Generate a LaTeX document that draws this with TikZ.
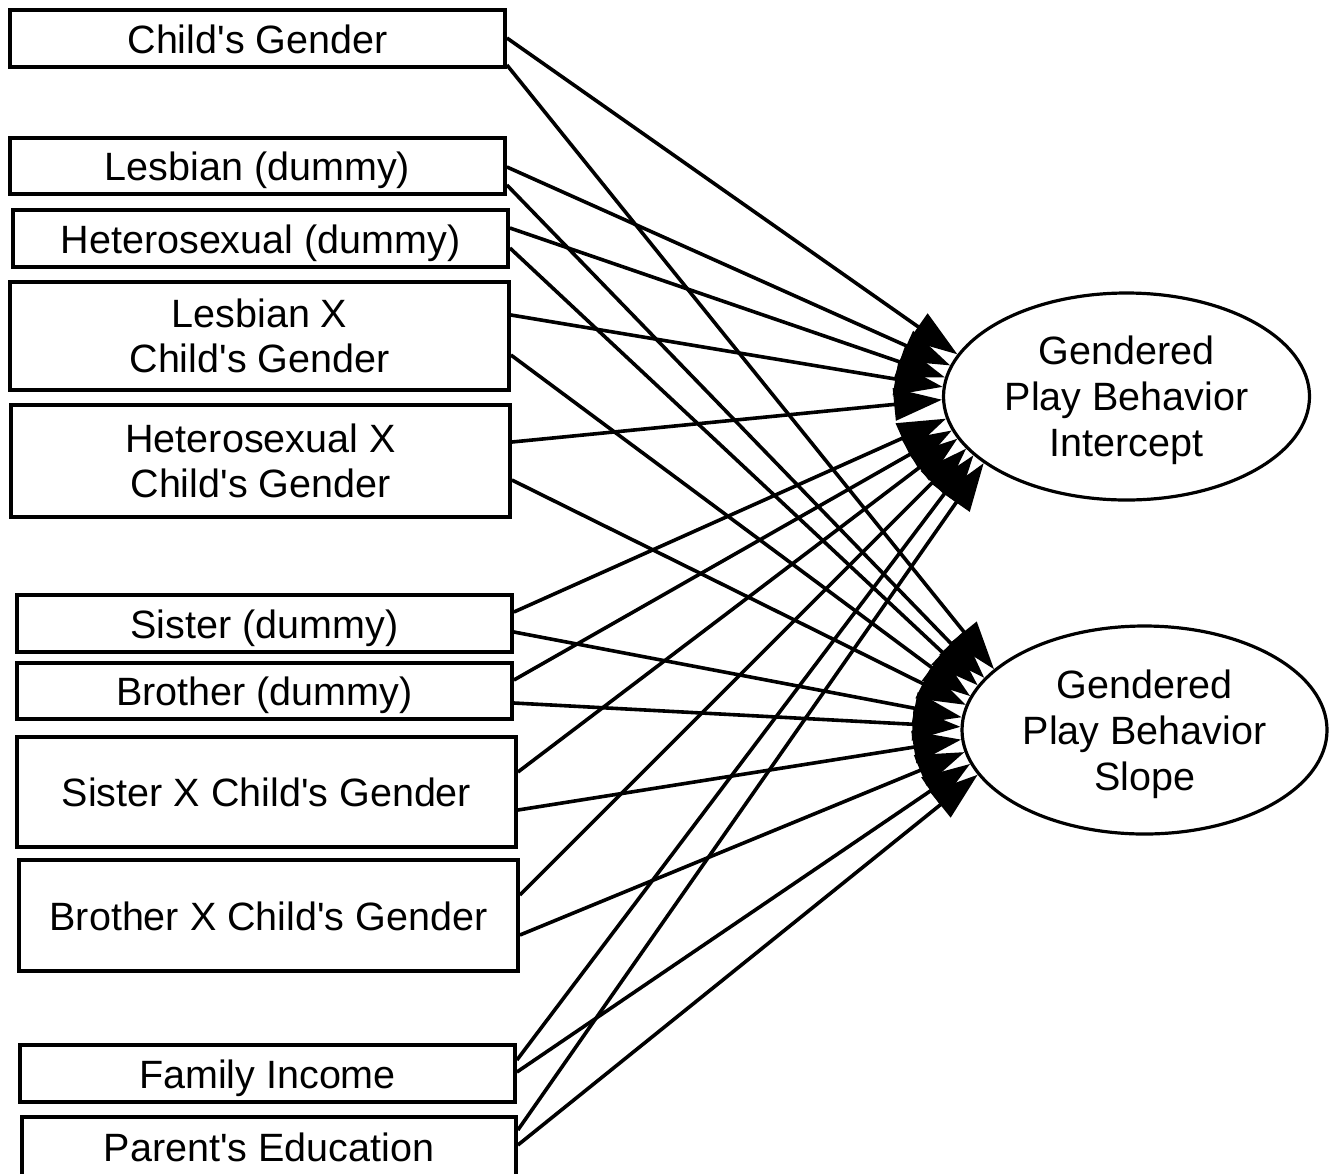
\documentclass[tikz,border=0pt]{standalone}
\usepackage{fontspec}
\setmainfont{Liberation Sans}
\usetikzlibrary{arrows.meta,shapes.geometric,calc}
\newcommand{\ap}{\textquotesingle}
\begin{document}
\begin{tikzpicture}[x=0.5pt,y=-0.5pt,
  box/.style={draw,line width=1.9pt,rectangle,inner sep=0pt,align=center,
    font=\fontsize{19.75}{22.5}\selectfont},
  single/.style={text height=14.5pt,text depth=0pt},
  lat/.style={draw,line width=1.6pt,ellipse,inner sep=0pt},
  lattext/.style={align=center,inner sep=0pt,font=\fontsize{19.75}{23}\selectfont},
  conn/.style={line width=1.8pt,-{Triangle[length=24pt,width=16pt]}}
]
\useasboundingbox (0,0) rectangle (1336,1173);
\fill[white] (0,0) rectangle (1336,1173);

\node[box,single,minimum width=247.5pt,minimum height=28.5pt] (b1) at (257.5,38.5) {Child\ap s Gender};
\node[box,single,minimum width=247.5pt,minimum height=28pt] (b2) at (257.5,166) {Lesbian (dummy)};
\node[box,single,minimum width=247.5pt,minimum height=28.5pt] (b3) at (260.5,238.5) {Heterosexual (dummy)};
\node[box,minimum width=249.5pt,minimum height=54pt] (b4) at (259.5,336) {Lesbian X\\Child\ap s Gender};
\node[box,minimum width=249.5pt,minimum height=56pt] (b5) at (260.5,461) {Heterosexual X\\Child\ap s Gender};
\node[box,single,minimum width=247.5pt,minimum height=28.5pt] (b6) at (264.5,623.5) {Sister (dummy)};
\node[box,single,minimum width=247.5pt,minimum height=28pt] (b7) at (264.5,691) {Brother (dummy)};
\node[box,single,minimum width=249.5pt,minimum height=55pt] (b8) at (266.5,792) {Sister X Child\ap s Gender};
\node[box,single,minimum width=249.5pt,minimum height=55.5pt] (b9) at (268.5,915.5) {Brother X Child\ap s Gender};
\node[box,single,minimum width=247.5pt,minimum height=28.5pt] (b10) at (267.5,1073.5) {Family Income};
\node[box,single,minimum width=247pt,minimum height=30pt] (b11) at (269,1147) {Parent\ap s Education};

\node[lat,minimum width=183pt,minimum height=103.5pt] (e1) at (1126.5,396.5) {};
\node[lattext] (e1t) at (1126.5,400) {Gendered\\Play Behavior\\Intercept};
\node[lat,minimum width=182.5pt,minimum height=104pt] (e2) at (1144.5,730) {};
\node[lattext] (e2t) at (1144.5,734) {Gendered\\Play Behavior\\Slope};

\foreach \n/\dy/\a in {b1/-0.5/166, b2/1/170, b3/-10.5/174, b4/-21/177.5, b5/-19/181,
  b6/-11.5/187, b7/-11/191, b8/-20/194.5, b9/-20.5/198, b10/-13.5/201.5, b11/-17/205}
  \draw[conn] ($(\n.east)+(0,\dy)$) -- (e1.\a);

\foreach \n/\dy/\a in {b1/26.5/158.5, b2/19/162, b3/9.5/165.5, b4/19/169, b5/19/172.5,
  b6/8.5/176, b7/12/179.5, b8/18/183, b9/19.5/187, b10/-1.5/191, b11/-2/195}
  \draw[conn] ($(\n.east)+(0,\dy)$) -- (e2.\a);
\end{tikzpicture}
\end{document}
